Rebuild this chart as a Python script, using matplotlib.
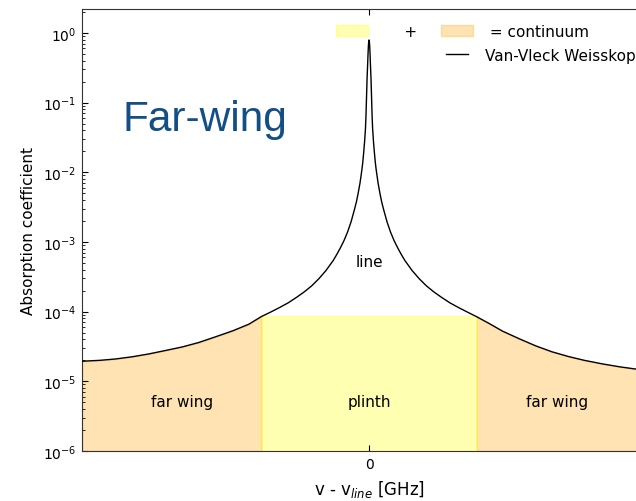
"""
Far-wing continuum sketch: Van-Vleck Weisskopf line on a log axis,
split into line / plinth / far wing regions.
"""
import numpy as np
import matplotlib
matplotlib.use('Agg')
import matplotlib.pyplot as plt
from matplotlib.patches import Patch
from matplotlib.lines import Line2D
from matplotlib.legend_handler import HandlerLine2D

# frequency offset from line centre (GHz) and absorption
freq_left = [-8.0, -7.5, -7.07, -6.6, -6.14, -5.7, -5.21, -4.75, -4.29, -3.8,
             -3.35, -3.0, -2.75, -2.5, -2.25, -2.0, -1.8, -1.6, -1.4, -1.2,
             -1.0, -0.9, -0.8, -0.7, -0.6, -0.5, -0.4, -0.35, -0.3, -0.25,
             -0.2, -0.175, -0.15, -0.125, -0.10, -0.085, -0.07, -0.055, -0.04, -0.03,
             -0.02, -0.01]
absorb_left = [1.94e-5, 2.0e-5, 2.09e-5, 2.25e-5, 2.47e-5, 2.75e-5, 3.11e-5, 3.6e-5, 4.33e-5, 5.3e-5,
               6.6e-5, 8.5e-5, 9.8e-5, 1.14e-4, 1.34e-4, 1.63e-4, 1.93e-4, 2.34e-4, 2.96e-4, 3.89e-4,
               5.4e-4, 6.6e-4, 8.2e-4, 1.04e-3, 1.38e-3, 1.95e-3, 3.0e-3, 3.8e-3, 5.1e-3, 7.1e-3,
               1.08e-2, 1.38e-2, 1.9e-2, 2.7e-2, 4.2e-2, 6.5e-2, 0.12, 0.22, 0.34, 0.47,
               0.62, 0.74]
freq_peak   = [0.0]
absorb_peak = [0.79]
freq_right = [0.01, 0.02, 0.03, 0.04, 0.055, 0.07, 0.085, 0.10, 0.125, 0.15,
              0.175, 0.2, 0.25, 0.3, 0.35, 0.4, 0.5, 0.6, 0.7, 0.8,
              0.9, 1.0, 1.2, 1.4, 1.6, 1.8, 2.0, 2.25, 2.5, 2.75,
              3.0, 3.35, 3.72, 4.2, 4.65, 5.1, 5.57, 6.0, 6.5, 7.0,
              7.43, 8.0]
absorb_right = [0.74, 0.62, 0.47, 0.34, 0.22, 0.12, 6.5e-2, 4.2e-2, 2.7e-2, 1.9e-2,
                1.38e-2, 1.08e-2, 7.1e-3, 5.1e-3, 3.8e-3, 3.0e-3, 1.95e-3, 1.38e-3, 1.04e-3, 8.2e-4,
                6.6e-4, 5.4e-4, 3.89e-4, 2.96e-4, 2.34e-4, 1.93e-4, 1.63e-4, 1.34e-4, 1.14e-4, 9.8e-5,
                8.45e-5, 6.75e-5, 5.25e-5, 4.05e-5, 3.22e-5, 2.65e-5, 2.26e-5, 2.0e-5, 1.78e-5, 1.61e-5,
                1.5e-5, 1.38e-5]

plinth_edge   = 3.0       # GHz, half width of the plinth
plinth_height = 8.67e-5
y_floor       = 1e-6

freq   = np.array(freq_left + freq_peak + freq_right)
absorb = np.array(absorb_left + absorb_peak + absorb_right)

fig = plt.figure(figsize=(6.36, 5.02), dpi=100)
# axes deliberately runs past the right edge of the figure
ax = fig.add_axes([0.129, 0.0996, 0.9025, 0.8805])

ax.plot(freq, absorb, color='black', linewidth=1.0, zorder=3)

left  = freq <= -plinth_edge
right = freq >= plinth_edge
ax.fill_between(freq[left],  y_floor, absorb[left],  color='orange', alpha=0.3)
ax.fill_between(freq[right], y_floor, absorb[right], color='orange', alpha=0.3)
ax.fill_between([-plinth_edge, plinth_edge], y_floor, plinth_height,
                color='yellow', alpha=0.3)

ax.set_yscale('log')
ax.set_xlim(-8, 8)
ax.set_ylim(1e-6, 2.2)
ax.set_xticks([0])
ax.tick_params(direction='in', which='both', top=True, right=True,
               labelsize=10, pad=4)
ax.tick_params(which='major', length=4)
ax.tick_params(which='minor', length=2)
for s in ax.spines.values():
    s.set_color('#333333')

ax.set_xlabel(r'v - v$_{line}$ [GHz]', fontsize=12, labelpad=5)
ax.set_ylabel('Absorption coefficient', fontsize=11, labelpad=5)

ax.text(0, 5.2e-4, 'line', ha='center', va='center', fontsize=11)
ax.text(0, 5.05e-6, 'plinth', ha='center', va='center', fontsize=11)
ax.text(-5.21, 5.05e-6, 'far wing', ha='center', va='center', fontsize=11)
ax.text(5.24, 5.05e-6, 'far wing', ha='center', va='center', fontsize=11)

fig.text(0.193, 0.739, 'Far-wing', fontsize=30.5, color='#134f85',
         family='Liberation Sans', ha='left', va='baseline')

handles = [Patch(facecolor='yellow', edgecolor='yellow', alpha=0.3),
           Patch(facecolor='none', edgecolor='none'),
           Patch(facecolor='orange', edgecolor='orange', alpha=0.3),
           Line2D([], [], color='black', linewidth=1.0)]
labels = ['     +', '', ' = continuum', 'Van-Vleck Weisskopf']
ax.legend(handles, labels, ncol=2, loc='upper left',
          bbox_to_anchor=(0.519, 0.962), bbox_transform=fig.transFigure,
          frameon=False, fontsize=11, handlelength=2.1, handletextpad=0.75,
          columnspacing=1.6, labelspacing=0.55, borderaxespad=0.0,
          handler_map={Line2D: HandlerLine2D(numpoints=2, marker_pad=0.33)})

plt.savefig('out.png', dpi=100)
plt.close()
